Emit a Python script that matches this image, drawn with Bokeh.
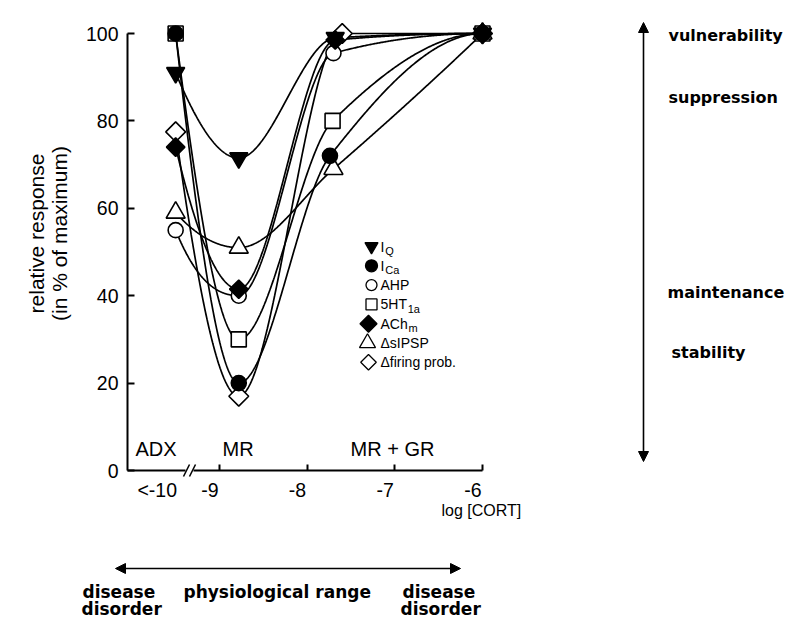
import numpy as np
from bokeh.plotting import figure
from bokeh.models import Range1d, FixedTicker, Label, Arrow, NormalHead
from bokeh.core.properties import value
from bokeh.embed import file_html
from bokeh.resources import INLINE

# ---------------- data ----------------
iq_x = [-9.5, -8.78, -7.68, -6.0]
iq_y = [91, 71.5, 99, 100]
ica_x = [-9.5, -8.78, -7.74, -6.0]
ica_y = [100, 20, 72, 100]
ahp_x = [-9.5, -8.78, -7.70, -6.0]
ahp_y = [55, 40, 95.5, 100]
ht_x = [-9.5, -8.78, -7.71, -6.0]
ht_y = [100, 30, 80, 100]
ach_x = [-9.5, -8.78, -7.68, -6.0]
ach_y = [74, 41.5, 98.5, 100]
ipsp_x = [-9.5, -8.78, -7.70, -6.0]
ipsp_y = [59, 51, 69, 100]
fire_x = [-9.5, -8.78, -7.60, -6.0]
fire_y = [77.5, 17, 100, 100]

y_ticks = [0, 20, 40, 60, 80, 100]
x_ticks = [-9, -8, -7, -6]
x_tick_labels = ["-9", "-8", "-7", "-6"]
adx_tick_label = "<-10"
y_title = ["relative response", "(in % of maximum)"]
x_title = "log [CORT]"
region_labels = ["ADX", "MR", "MR + GR"]
right_labels = ["vulnerability", "suppression", "maintenance", "stability"]
legend_main = ["I", "I", "AHP", "5HT", "ACh", "\u0394sIPSP", "\u0394firing prob."]
legend_sub = ["Q", "Ca", "", "1a", "m", "", ""]

# ---------------- geometry (picture pixels) ----------------
X_AT_M6 = 482.0     # picture x of log = -6
PX_X = 87.67        # px per log unit
Y_AT_0 = 470.0      # picture y of 0 %
PX_Y = 4.37         # px per %
AXIS_LEFT = 127.0   # picture x of the y axis line


def px(xp):
    return -6 + (xp - X_AT_M6) / PX_X


def py(yp):
    return (Y_AT_0 - yp) / PX_Y


W, H = 788, 620
p = figure(width=W, height=H, output_backend="svg", toolbar_location=None,
           x_range=Range1d(px(0), px(W)), y_range=Range1d(py(H), py(0)),
           min_border_left=0, min_border_right=0, min_border_top=0, min_border_bottom=0)
p.outline_line_color = None
p.xgrid.visible = False
p.ygrid.visible = False
p.background_fill_color = "white"
p.border_fill_color = "white"

FONT = "Liberation Sans"
BOLD = "DejaVu Sans"
INK = "black"

# x axis: labels sit slightly left of their tick marks as in the original
shift = 0.11
label_pos = [round(t - shift, 3) for t in x_ticks]
adx_pos = round(iq_x[0] - 0.21, 3)
xa = p.xaxis[0]
xa.fixed_location = 0
xa.ticker = FixedTicker(ticks=[adx_pos] + label_pos, minor_ticks=x_ticks)
ov = {adx_pos: adx_tick_label}
ov.update({pos: lab for pos, lab in zip(label_pos, x_tick_labels)})
xa.major_label_overrides = ov
xa.bounds = (px(AXIS_LEFT), -6)
xa.major_tick_in = 0
xa.major_tick_out = 0
xa.minor_tick_in = 6
xa.minor_tick_out = 0
xa.minor_tick_line_width = 2
xa.axis_line_width = 2
xa.major_label_standoff = 8
xa.major_label_text_font = FONT
xa.major_label_text_font_size = "19.5px"
xa.major_label_text_color = INK

ya = p.yaxis[0]
ya.fixed_location = px(AXIS_LEFT)
ya.ticker = FixedTicker(ticks=y_ticks)
ya.bounds = (0, 100)
ya.major_tick_in = 7
ya.major_tick_out = 0
ya.minor_tick_in = 0
ya.minor_tick_out = 0
ya.major_tick_line_width = 2
ya.axis_line_width = 2
ya.major_label_standoff = 9
ya.major_label_text_font = FONT
ya.major_label_text_font_size = "19.5px"
ya.major_label_text_color = INK

# y axis title (two rotated lines, placed as in the original)
for txt, xp in zip(y_title, [36, 59]):
    p.add_layout(Label(x=px(xp), y=py(233), text=txt, angle=np.pi / 2, text_font=FONT,
                       text_font_size="21px", text_align="center", text_baseline="middle",
                       text_color=INK))


# ---------------- smooth curves (monotone cubic through the points) --------
def smooth(xs, ys, n=160):
    xs = np.asarray(xs, float)
    ys = np.asarray(ys, float)
    h = np.diff(xs)
    d = np.diff(ys) / h
    m = np.zeros_like(ys)
    for k in range(1, len(xs) - 1):
        if d[k - 1] * d[k] <= 0:
            m[k] = 0.0
        else:
            w1 = 2 * h[k] + h[k - 1]
            w2 = h[k] + 2 * h[k - 1]
            m[k] = (w1 + w2) / (w1 / d[k - 1] + w2 / d[k])

    def end(h0, h1, d0, d1):
        mm = ((2 * h0 + h1) * d0 - h0 * d1) / (h0 + h1)
        if np.sign(mm) != np.sign(d0):
            mm = 0.0
        elif np.sign(d0) != np.sign(d1) and abs(mm) > abs(3 * d0):
            mm = 3 * d0
        return mm

    m[0] = end(h[0], h[1], d[0], d[1])
    m[-1] = end(h[-1], h[-2], d[-1], d[-2])
    ox, oy = [], []
    for k in range(len(xs) - 1):
        t = np.linspace(0, 1, n)
        h00 = 2 * t**3 - 3 * t**2 + 1
        h10 = t**3 - 2 * t**2 + t
        h01 = -2 * t**3 + 3 * t**2
        h11 = t**3 - t**2
        ox.extend(xs[k] + t * h[k])
        oy.extend(h00 * ys[k] + h10 * h[k] * m[k] + h01 * ys[k + 1] + h11 * h[k] * m[k + 1])
    return ox, oy


series = [
    # x, y, marker, size, filled, angle
    (ht_x, ht_y, "square", 15, False, 0.0),
    (ipsp_x, ipsp_y, "triangle", 19, False, 0.0),
    (ahp_x, ahp_y, "circle", 15, False, 0.0),
    (fire_x, fire_y, "square", 14, False, np.pi / 4),
    (ach_x, ach_y, "square", 13, True, np.pi / 4),
    (ica_x, ica_y, "circle", 15, True, 0.0),
    (iq_x, iq_y, "inverted_triangle", 18, True, 0.0),
]

for xs, ys, *_ in series:
    cx, cy = smooth(xs, ys)
    p.line(cx, cy, line_color=INK, line_width=1.7)

for xs, ys, mk, sz, filled, ang in series:
    p.scatter(xs, ys, marker=mk, size=sz, angle=ang,
              fill_color=INK if filled else "white",
              line_color=INK, line_width=1.6)

# ---------------- legend (drawn by hand for the subscripts) ----------------
leg_marks = [("inverted_triangle", 13, True, 0.0), ("circle", 12, True, 0.0),
             ("circle", 11, False, 0.0), ("square", 11, False, 0.0),
             ("square", 12, True, np.pi / 4), ("triangle", 16, False, 0.0),
             ("square", 11, False, np.pi / 4)]
leg_mx = [371, 371, 371, 371, 368, 367, 368]
row0, step = 246.0, 19.3
char_w = {"I": 0.278, "A": 0.667, "C": 0.722, "h": 0.556, "H": 0.722, "T": 0.611,
          "5": 0.556, "P": 0.667}
LEG_FS = 14
for i, (mk, sz, filled, ang) in enumerate(leg_marks):
    yy = py(row0 + i * step)
    p.scatter([px(leg_mx[i])], [yy], marker=mk, size=sz, angle=ang,
              fill_color=INK if filled else "white", line_color=INK, line_width=1.3)
    tx = 380
    p.text([px(tx)], [yy], text=[legend_main[i]], text_font=value(FONT),
           text_font_size=f"{LEG_FS}px", text_baseline="middle", text_align="left",
           text_color=INK)
    if legend_sub[i]:
        wpx = sum(char_w.get(c, 0.6) for c in legend_main[i]) * LEG_FS
        p.text([px(tx + wpx + 0.8)], [yy - 4.5 / PX_Y], text=[legend_sub[i]],
               text_font=value(FONT), text_font_size="11px", text_baseline="middle",
               text_align="left", text_color=INK)

# ---------------- region labels inside the axes ----------------
for txt, xp in zip(region_labels, [135, 222, 350]):
    p.add_layout(Label(x=px(xp), y=py(448), text=txt, text_font=FONT, text_font_size="20px",
                       text_baseline="middle", text_align="left", text_color=INK))

# axis break marks
p.add_layout(Arrow(start=None, end=None, x_start=px(185), y_start=0, x_end=px(193), y_end=0,
                   line_color="white", line_width=5))
for xb in (183, 189):
    p.add_layout(Arrow(start=None, end=None, x_start=px(xb), y_start=py(476),
                       x_end=px(xb + 6), y_end=py(464), line_color=INK, line_width=1.6))

# x axis title
p.add_layout(Label(x=px(441), y=py(510), text=x_title, text_font=FONT, text_font_size="16px",
                   text_baseline="middle", text_align="left", text_color=INK))

# ---------------- right-hand scale ----------------
p.add_layout(Arrow(start=NormalHead(size=10, fill_color=INK, line_color=INK),
                   end=NormalHead(size=10, fill_color=INK, line_color=INK),
                   x_start=px(643), y_start=py(461), x_end=px(643), y_end=py(22),
                   line_width=1.6, line_color=INK))
for txt, yp, xp in zip(right_labels, [35, 97, 292, 352], [668, 668, 667, 671]):
    p.add_layout(Label(x=px(xp), y=py(yp), text=txt, text_font=BOLD, text_font_style="bold",
                       text_font_size="16px", text_baseline="middle", text_align="left",
                       text_color=INK))

# ---------------- bottom range arrow ----------------
p.add_layout(Arrow(start=NormalHead(size=10, fill_color=INK, line_color=INK),
                   end=NormalHead(size=10, fill_color=INK, line_color=INK),
                   x_start=px(115), y_start=py(568), x_end=px(460), y_end=py(568),
                   line_width=1.6, line_color=INK))
bottom = [("disease", 82, 591), ("disorder", 81, 608), ("physiological  range", 183, 591),
          ("disease", 402, 591), ("disorder", 400, 608)]
for txt, xp, yp in bottom:
    p.add_layout(Label(x=px(xp), y=py(yp), text=txt, text_font=BOLD, text_font_style="bold",
                       text_font_size="17px", text_baseline="middle", text_align="left",
                       text_color=INK))

open("out.html", "w").write(file_html(p, INLINE))
